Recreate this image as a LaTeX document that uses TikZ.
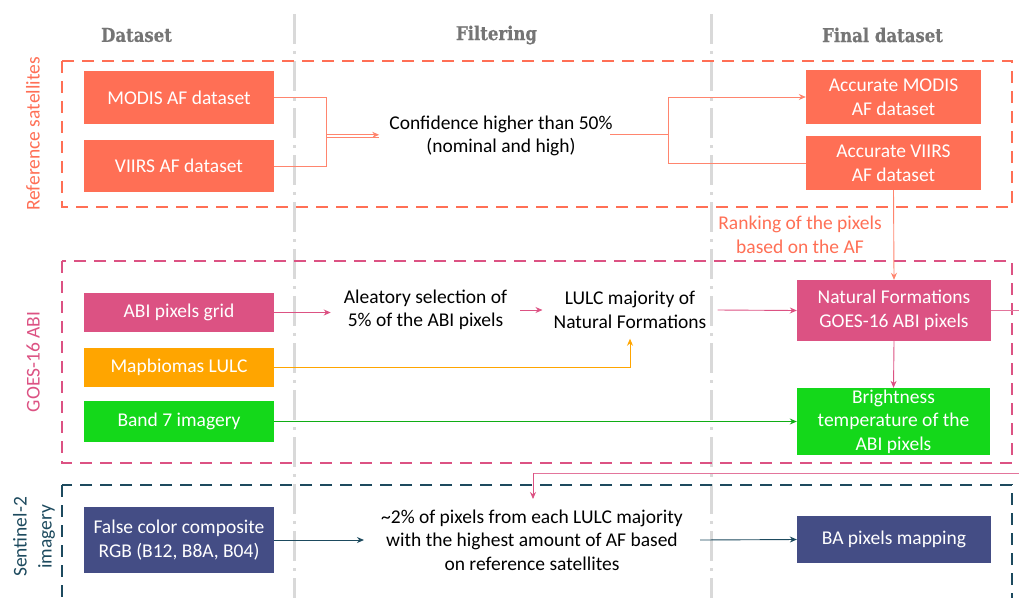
\documentclass[tikz,border=0pt]{standalone}
\usepackage{fontspec}
\setmainfont{Carlito}
\newfontfamily\hdrfont[FakeStretch=0.87,BoldFeatures={FakeBold=0.6}]{DejaVu Serif}
\usetikzlibrary{arrows.meta}
\definecolor{coral}{HTML}{FF6F55}
\definecolor{rose}{HTML}{DC5283}
\definecolor{amber}{HTML}{FFA500}
\definecolor{lime}{HTML}{14D81A}
\definecolor{slate}{HTML}{444D85}
\definecolor{teal2}{HTML}{1D4A5E}
\definecolor{hdrgrey}{HTML}{757575}
\definecolor{sepgrey}{HTML}{D9D9D9}
\begin{document}
\begin{tikzpicture}[x=1pt,y=-1pt,
  every node/.style={font=\fontsize{19.5}{23.5}\selectfont},
  box/.style={draw=none, text=white, align=center, inner sep=0pt},
  txt/.style={align=center, text=black, inner xsep=11pt, inner ysep=3pt},
  frame/.style={dash pattern=on 12pt off 8pt, line width=2.5pt},
  conn/.style={line width=0.9pt},
  tip/.style={-{Stealth[length=7pt,width=6pt]}},
  hdr/.style={font=\hdrfont\bfseries\fontsize{19}{22}\selectfont, text=hdrgrey},
  side/.style={rotate=90, align=center},
  sep/.style={draw=sepgrey, line width=3pt, dash pattern=on 30pt off 7pt on 3pt off 7pt}
]
\useasboundingbox (0,0) rectangle (1019,597);
% separators
\draw[sep] (294,14) -- (294,600);
\draw[sep] (711,14) -- (711,600);
% headers
\node[hdr] (h1) at (136.5,35) {Dataset};
\node[hdr] (h2) at (496.5,35) {Filtering};
\node[hdr] (h3) at (882.5,35) {Final dataset};
% frames
\draw[frame, coral] (62,61) rectangle (1012,207);
\draw[frame, rose] (62,261) rectangle (1012,463);
\draw[frame, teal2] (62,485) rectangle (1012,640);
% side labels
\node[side, text=coral] (l1) at (33,134) {Reference satellites};
\node[side, text=rose] (l2) at (33,362) {GOES-16 ABI};
\node[side, text=teal2, font=\fontsize{19.5}{25}\selectfont] (l3) at (34,537) {Sentinel-2\\imagery};
% boxes
\node[box, fill=coral, minimum width=190pt, minimum height=53pt] (modis) at (179,97.5) {MODIS AF dataset};
\node[box, fill=coral, minimum width=190pt, minimum height=52pt] (viirs) at (179,166) {VIIRS AF dataset};
\node[box, fill=coral, minimum width=175pt, minimum height=54pt] (accm) at (893.5,97) {Accurate MODIS\\AF dataset};
\node[box, fill=coral, minimum width=175pt, minimum height=54pt] (accv) at (893.5,163) {Accurate VIIRS\\AF dataset};
\node[box, fill=rose, minimum width=190pt, minimum height=39pt] (abi) at (179,312.5) {ABI pixels grid};
\node[box, fill=amber, minimum width=190pt, minimum height=39pt] (map) at (179,367.5) {Mapbiomas LULC};
\node[box, fill=lime, minimum width=190pt, minimum height=41pt] (band) at (179,421.5) {Band 7 imagery};
\node[box, fill=rose, minimum width=194pt, minimum height=61pt] (nf) at (894,310.5) {Natural Formations\\GOES-16 ABI pixels};
\node[box, fill=lime, minimum width=193pt, minimum height=67pt] (bt) at (893.5,421.5) {Brightness\\temperature of the\\ABI pixels};
\node[box, fill=slate, minimum width=190pt, minimum height=66pt] (fc) at (179,540) {False color composite\\RGB (B12, B8A, B04)};
\node[box, fill=slate, minimum width=194pt, minimum height=47pt] (ba) at (894,539.5) {BA pixels mapping};
% text nodes
\node[txt, inner xsep=10pt] (conf) at (501,136) {Confidence higher than 50\%\\(nominal and high)};
\node[txt, inner xsep=13pt] (alea) at (425.5,310) {Aleatory selection of\\5\% of the ABI pixels};
\node[txt, inner xsep=11pt, inner ysep=10pt] (lulc) at (630,310) {LULC majority of\\Natural Formations};
\node[txt, inner xsep=17pt, inner ysep=6pt] (sent) at (532,540) {\textasciitilde2\% of pixels from each LULC majority\\with the highest amount of AF based\\on reference satellites};
\node[align=center, text=coral] (rank) at (800,235) {Ranking of the pixels\\based on the AF};
% coordinates
\coordinate (j1) at (326,136);
\coordinate (c0) at (610,134);
\coordinate (j2) at (668,134);
\coordinate (o1) at (1030,310.5);
\coordinate (o2) at (533,473);
\coordinate (o3) at (533,499);
% connectors
\draw[conn, coral!85] (modis.east) -| ([yshift=-1.2pt]j1) -- ([yshift=-1.2pt]conf.west);
\draw[conn, coral!85, tip] (viirs.east) -| ([yshift=1.2pt]j1) -- ([yshift=1.2pt]conf.west);
\draw[conn, coral!85] (c0) -- (j2);
\draw[conn, coral!85, tip] (j2) |- (accm.west);
\draw[conn, coral!85] (j2) |- (accv.west);
\draw[conn, coral!85, tip] (accv.south) -- (nf.north);
\draw[conn, rose, tip] (abi.east) -- (abi.east -| alea.west);
\draw[conn, rose, tip] (alea.east) -- (lulc.west);
\draw[conn, rose, tip] (lulc.east) -- (nf.west);
\draw[conn, amber, tip] (map.east) -| (lulc.south);
\draw[conn, lime!80!black, tip] (band.east) -- (bt.west);
\draw[conn, rose, tip] (nf.south) -- (bt.north);
\draw[conn, rose!80] (nf.east) -- (o1) |- (o2);
\draw[conn, rose, tip] (o2) -- (o3);
\draw[conn, teal2, tip] (fc.east) -- (sent.west);
\draw[conn, teal2, tip] (sent.east) -- (ba.west);
\end{tikzpicture}
\end{document}
